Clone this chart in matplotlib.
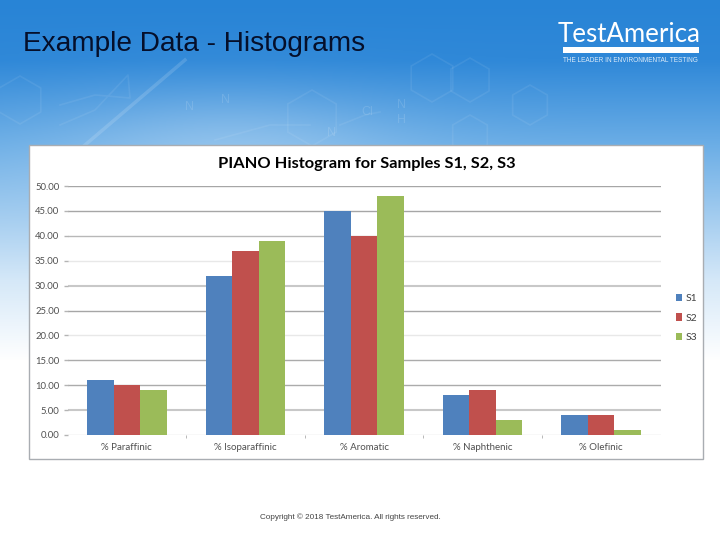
import matplotlib
matplotlib.use('Agg')
import matplotlib.pyplot as plt
import numpy as np
from matplotlib.patches import Rectangle, RegularPolygon

# Data
categories = ['% Paraffinic', '% Isoparaffinic', '% Aromatic', '% Naphthenic', '% Olefinic']
s1 = [11, 32, 45, 8, 4]
s2 = [10, 37, 40, 9, 4]
s3 = [9, 39, 48, 3, 1]
y_ticks = [0, 5, 10, 15, 20, 25, 30, 35, 40, 45, 50]

# The gridlines come out uneven in the reference (it was downscaled)
grid_colors = ['#e0e0e0', '#c8c8c8', '#ababab', '#ababab', '#e8e8e8', '#a6a6a6',
               '#c8c8c8', '#e8e8e8', '#b8b8b8', '#a6a6a6', '#a6a6a6']
grid_widths = [1, 1.5, 1, 1, 1, 1, 1.5, 1, 1, 1, 1]

W, H = 720, 540
fig = plt.figure(figsize=(7.2, 5.4), dpi=100)

# Slide background, in pixel coordinates
bg = fig.add_axes([0, 0, 1, 1])
bg.set_xlim(0, W)
bg.set_ylim(H, 0)
bg.axis('off')
yy, xx = np.mgrid[0:H, 0:W]
stops_y = [0, 60, 145, 280, 360, 540]
stops_c = np.array([[0x28, 0x84, 0xd6], [0x2f, 0x88, 0xd8], [0x6c, 0xae, 0xe6],
                    [0xd5, 0xe8, 0xf8], [0xff, 0xff, 0xff], [0xff, 0xff, 0xff]]) / 255
img = np.dstack([np.interp(yy, stops_y, stops_c[:, i]) for i in range(3)])
# soft light patch behind the molecules, upper left
glow = 0.25 * np.exp(-(((xx - 230) / 170.0) ** 2 + ((yy - 150) / 60.0) ** 2))[..., None]
img = img + (1 - img) * glow
bg.imshow(img, extent=(0, W, H, 0), aspect='auto', zorder=0)

# Faint molecule decoration
faint = dict(color='white', alpha=0.07, lw=1.2, zorder=1)
for cx, cy, r in [(312, 118, 28), (432, 78, 24), (470, 80, 22), (530, 105, 20), (470, 135, 20), (20, 100, 24)]:
    bg.add_patch(RegularPolygon((cx, cy), 6, radius=r, fill=False, ec='white', alpha=0.07, lw=1.2, zorder=1))
bg.plot([85, 185], [145, 60], color='white', alpha=0.14, lw=2.5, zorder=1)
bg.plot([60, 95, 130, 128, 95, 60], [105, 95, 98, 75, 110, 125], **faint)
bg.plot([340, 365, 380], [125, 115, 112], **faint)
bg.plot([215, 270, 310], [140, 125, 125], **faint)
for tx, ty, s in [(226, 100, 'N'), (331, 133, 'N'), (367, 112, 'Cl'), (402, 105, 'N'), (402, 120, 'H'), (190, 107, 'N')]:
    bg.text(tx, ty, s, fontsize=9, family='Liberation Sans', color='white', alpha=0.13,
            va='center', ha='center', zorder=1)

# Header
bg.text(23, 44, 'Example Data - Histograms', fontsize=20.2, family='Liberation Sans',
        color='#050f2a', va='center', ha='left')
bg.text(558, 35, 'TestAmerica', fontsize=18.6, family='Lato',
        color='white', va='center', ha='left')
bg.add_patch(Rectangle((563, 47), 136, 6, color='white', lw=0))
bg.text(563, 60, 'THE LEADER IN ENVIRONMENTAL TESTING', fontsize=4.7,
        family='Liberation Sans', color='#dcebf8', va='center', ha='left')
bg.text(350.5, 517, 'Copyright © 2018 TestAmerica. All rights reserved.', fontsize=5.9,
        family='Liberation Sans', color='#444444', va='center', ha='center')

# White chart panel
bg.add_patch(Rectangle((29, 145), 674, 314, facecolor='white', edgecolor='#a9adb2', lw=1, zorder=2))
bg.text(367, 164, 'PIANO Histogram for Samples S1, S2, S3', fontsize=11.8, weight='bold',
        family='Lato', color='black', va='center', ha='center', zorder=3)

# Chart
ax = fig.add_axes([67.5 / W, 1 - 435 / H, (660.5 - 67.5) / W, (435 - 186) / H])
ax.patch.set_alpha(0)
x = np.arange(len(categories))
w = 0.224
ax.bar(x - w, s1, w, color='#4f81bd', label='S1', zorder=3)
ax.bar(x, s2, w, color='#c0504d', label='S2', zorder=3)
ax.bar(x + w, s3, w, color='#9bbb59', label='S3', zorder=3)

ax.set_xlim(-0.5, len(categories) - 0.5)
ax.set_ylim(0, 50)
ax.set_yticks(y_ticks)
ax.set_yticklabels([f'{v:.2f}' for v in y_ticks], fontsize=6.8, family='Lato', color='#505050')
ax.set_xticks(x)
ax.set_xticklabels(categories, fontsize=7, family='Lato', color='#505050')
ax.tick_params(axis='x', length=0, pad=6)
ax.tick_params(axis='y', length=2.9, width=1, pad=3, color='#b4b4b4')
ax.set_xticks(np.arange(1, len(categories)) - 0.5, minor=True)
ax.tick_params(axis='x', which='minor', length=2, color='#b8b8b8', width=0.7)

ax.grid(axis='y', zorder=0)
for line, c, lw in zip(ax.get_ygridlines(), grid_colors, grid_widths):
    line.set_color(c)
    line.set_linewidth(lw)
for s in ['top', 'right', 'left', 'bottom']:
    ax.spines[s].set_visible(False)

ax.legend(loc='center left', bbox_to_anchor=((676 - 67.5) / (660.5 - 67.5), 0.47), frameon=False,
          handlelength=0.6, handleheight=0.7, labelspacing=1.0,
          handletextpad=0.35, borderpad=0, borderaxespad=0, labelcolor='#404040',
          prop={'family': 'Lato', 'size': 7.5})

fig.savefig('out.png', dpi=100)
